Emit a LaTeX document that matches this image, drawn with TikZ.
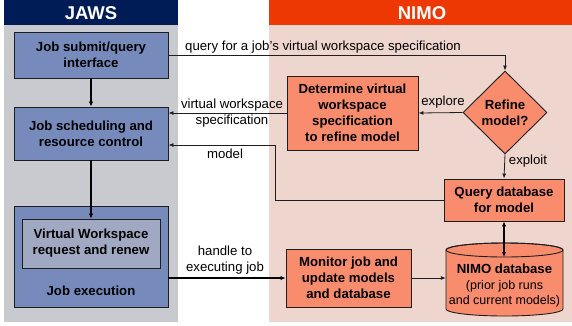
\documentclass[tikz,border=0pt]{standalone}
\usepackage{fontspec}
\setmainfont{Liberation Sans}
\usetikzlibrary{arrows.meta,shapes.geometric}
\definecolor{jawsnavy}{RGB}{0,28,86}
\definecolor{jawspanel}{RGB}{200,202,208}
\definecolor{jawsbox}{RGB}{118,138,188}
\definecolor{jawsinner}{RGB}{160,168,194}
\definecolor{nimored}{RGB}{238,56,4}
\definecolor{nimopanel}{RGB}{238,214,206}
\definecolor{nimobox}{RGB}{250,140,110}
\definecolor{edge}{RGB}{30,30,30}
\tikzset{
  boxtext/.style={font=\fontsize{13.2}{16}\selectfont\bfseries, align=center},
  lbl/.style={font=\fontsize{13.2}{16}\selectfont, align=center, inner sep=0pt},
  jbox/.style={draw=edge, line width=0.9pt, fill=jawsbox, boxtext, inner sep=0pt},
  nbox/.style={draw=edge, line width=0.9pt, fill=nimobox, boxtext, inner sep=0pt},
  thin arrow/.style={draw=edge, line width=0.8pt, -{Latex[length=5pt,width=4pt]}},
  thick arrow/.style={draw=black, line width=1.4pt, -{Latex[length=5pt,width=4.5pt]}},
  header/.style={font=\fontsize{18.5}{20}\selectfont\bfseries, text=white, inner sep=0pt}
}
\begin{document}
\begin{tikzpicture}[x=1pt,y=-1pt]
\useasboundingbox (0,0) rectangle (572,325);
% panels
\fill[jawspanel] (4,25) rectangle (178,322);
\fill[jawsnavy] (4,0) rectangle (178,25);
\node[header] (jaws) at (91,13) {JAWS};
\fill[nimopanel] (269,25) rectangle (572,322);
\fill[nimored] (269,0) rectangle (572,25);
\node[header] (nimo) at (422,13) {NIMO};
% JAWS boxes
\node[jbox, minimum width=154pt, minimum height=46pt] (submit) at (91,55) {Job submit/query\\interface};
\node[jbox, minimum width=154pt, minimum height=53pt] (sched) at (91,133.5) {Job scheduling and\\resource control};
\node[jbox, minimum width=154pt, minimum height=101pt] (exec) at (91,256.5) {};
\node[jbox, fill=jawsinner, minimum width=138pt, minimum height=49pt] (vw) at (91,243.5) {Virtual Workspace\\request and renew};
\node[boxtext] (execlbl) at (91,291) {Job execution};
% NIMO boxes
\node[nbox, minimum width=131pt, minimum height=74pt] (det) at (352.5,113) {Determine virtual\\workspace\\specification\\to refine model};
\node[nbox, diamond, aspect=1, minimum width=84pt, minimum height=83pt, inner sep=0pt] (dia) at (505,112.5) {Refine\\model?};
\node[nbox, minimum width=120pt, minimum height=42pt] (qdb) at (504,200) {Query database\\for model};
\node[nbox, minimum width=125pt, minimum height=58pt] (mon) at (348.5,278) {Monitor job and\\update models\\and database};
% cylinder
\node[minimum width=117pt, minimum height=73pt, inner sep=0pt] (db) at (504.5,279.5) {};
\filldraw[draw=edge, line width=0.9pt, fill=nimobox]
  (446,250) -- (446,309) arc[start angle=180, end angle=360, x radius=58.5pt, y radius=7pt]
  -- (563,250) arc[start angle=0, end angle=180, x radius=58.5pt, y radius=7pt] -- cycle;
\draw[draw=edge, line width=0.9pt] (504.5,250) ellipse[x radius=58.5pt, y radius=7pt];
\node[align=center, inner sep=0pt, font=\fontsize{12.5}{15.5}\selectfont] (dbtext) at (504.5,286)
  {\textbf{\fontsize{13.2}{15.5}\selectfont NIMO database}\\(prior job runs\\and current models)};
\coordinate (dbtop) at (504,257);
\coordinate (mc) at (275,145);
% connectors
\draw[thick arrow] (submit.south) -- (sched.north);
\draw[thick arrow] (sched.south) -- (vw.north);
\draw[thin arrow] (submit.east) -| (dia.north);
\draw[thin arrow] (dia.west) -- (det.east);
\draw[thin arrow] (det.west) -- (det.west -| sched.east);
\draw[thin arrow] (qdb.west) -| (mc) -- (mc -| sched.east);
\draw[thin arrow] (dia.south) -- (qdb.north);
\draw[draw=black, line width=1.4pt, {Latex[length=5pt,width=4.5pt]}-{Latex[length=5pt,width=4.5pt]}] (qdb.south) -- (qdb.south |- dbtop);
\draw[thick arrow] (mon.west -| exec.east) -- (mon.west);
\draw[thin arrow] (mon.east) -- (mon.east -| db.west);
% labels
\node[lbl] (l1) at (323,47) {query for a job's virtual workspace specification};
\node[lbl] (l2) at (232,113) {virtual workspace\\specification};
\node[lbl] (l3) at (225,154) {model};
\node[lbl] (l4) at (443,102) {explore};
\node[lbl] (l5) at (528,161) {exploit};
\node[lbl] (l6) at (225,260) {handle to\\executing job};
\end{tikzpicture}
\end{document}
